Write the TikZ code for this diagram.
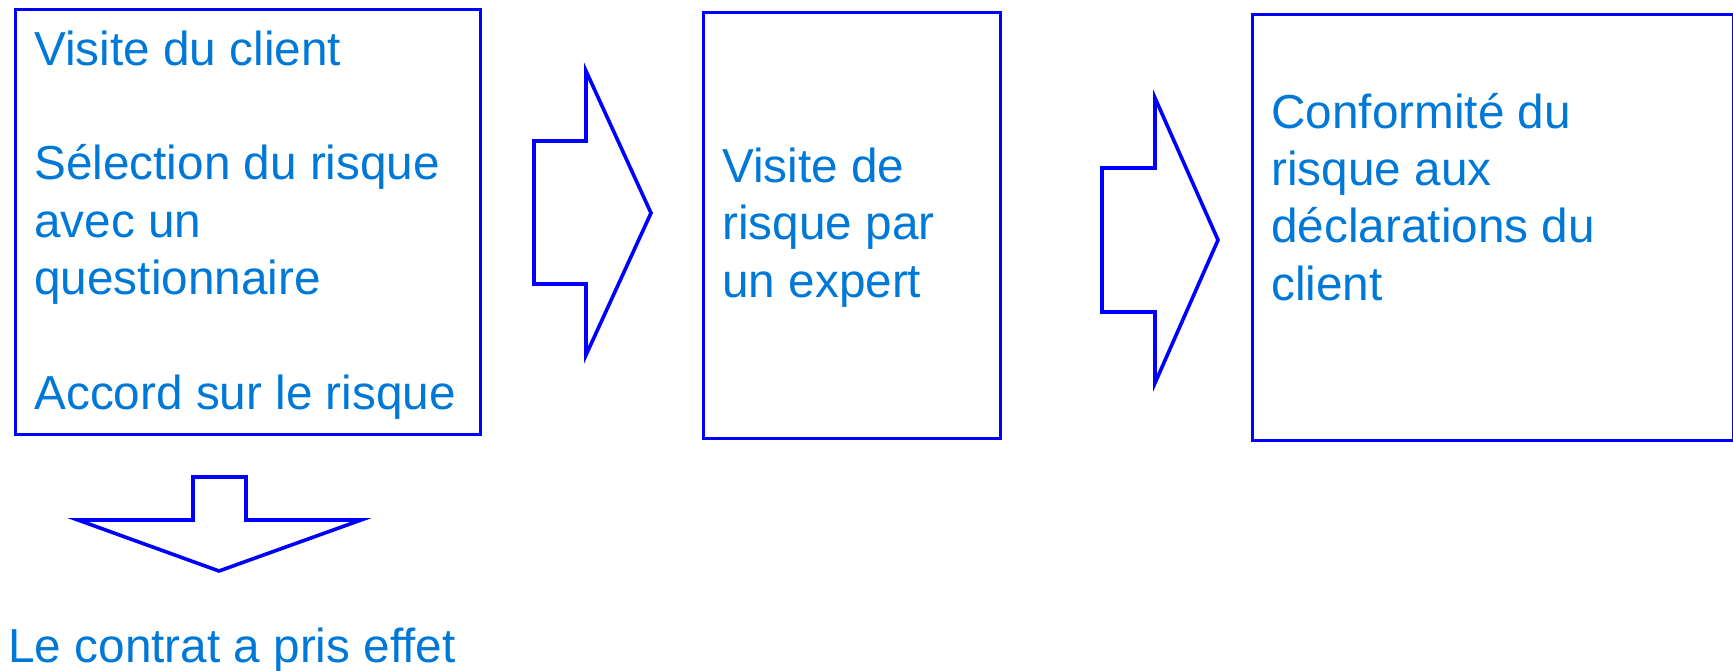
\documentclass[tikz,border=0pt]{standalone}
\usepackage{fontspec}
\setmainfont{Liberation Sans}
\definecolor{pureblue}{RGB}{0, 0, 255}
\definecolor{azure}{RGB}{0, 120, 215}
\tikzset{
  stepbox/.style={draw=pureblue, line width=1.3pt, inner sep=0pt, anchor=north west},
  steptext/.style={text=azure, font=\fontsize{23.85}{28.65}\selectfont, align=left, anchor=base west, inner sep=0pt},
  blockarrow/.style={draw=pureblue, line width=1.8pt, line join=miter}
}
\begin{document}
\begin{tikzpicture}[x=0.5pt, y=-0.5pt]
            \useasboundingbox (0,0) rectangle (1733,670);
            % boxes
            \node[stepbox, minimum width=232.5pt, minimum height=212.5pt] (client)  at (  14,  8) {};
            \node[stepbox, minimum width=148.5pt, minimum height=213.0pt] (expert)  at ( 702, 11) {};
            \node[stepbox, minimum width=240.5pt, minimum height=213.0pt] (conform) at (1251, 13) {};
            % texts (anchored on the last line)
            \node[steptext] (clienttext)  at (  34,409) {Visite du client\\[28.65pt]Sélection du risque\\avec un\\questionnaire\\[28.65pt]Accord sur le risque};
            \node[steptext] (experttext)  at ( 722,297) {Visite de\\risque par\\un expert};
            \node[steptext] (conformtext) at (1271,300) {Conformité du\\risque aux\\déclarations du\\client};
            \node[steptext] (effet)       at (   8,662) {Le contrat a pris effet};
            % block arrows
            \draw[blockarrow] ( 534,141) -- ( 586,141) -- ( 586, 71) -- ( 651,213) -- ( 586,355) -- ( 586,284) -- ( 534,284) -- cycle;
            \draw[blockarrow] (1102,168) -- (1155,168) -- (1155, 98) -- (1218,240) -- (1155,383) -- (1155,312) -- (1102,312) -- cycle;
            \draw[blockarrow] ( 193,477) -- ( 246,477) -- ( 246,520) -- ( 361,520) -- ( 219,571) -- (  78,520) -- ( 193,520) -- cycle;
        \end{tikzpicture}
\end{document}
